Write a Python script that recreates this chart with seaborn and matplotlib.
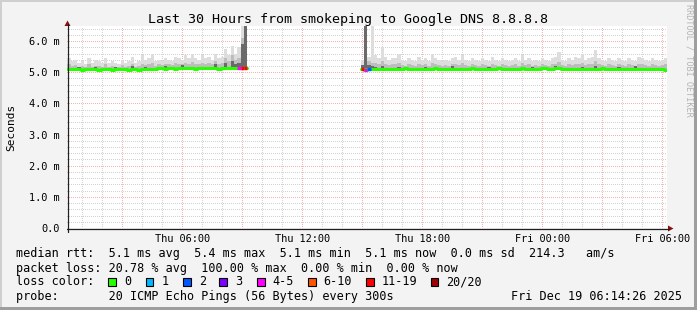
import numpy as np
import pandas as pd
import matplotlib
matplotlib.use("Agg")
import matplotlib.pyplot as plt
from matplotlib.lines import Line2D
from matplotlib.patches import Rectangle, Polygon
from matplotlib.ticker import FixedLocator
import seaborn as sns

# ---------------- data ----------------
TITLE = "Last 30 Hours from smokeping to Google DNS 8.8.8.8"
Y_LABEL = "Seconds"
X_START, X_END = 0.2407, 30.2407          # hours since Thu 00:00
STEP_H = 1 / 6                            # 10-minute bins
PRE_START = 0.25                          # Thu 00:15
POST_START = 14.9167                      # Thu 14:55

X_MAJOR = [3, 6, 9, 12, 15, 18, 21, 24, 27, 30]
X_LABELS = ["", "Thu 06:00", "", "Thu 12:00", "", "Thu 18:00", "", "Fri 00:00", "", "Fri 06:00"]
Y_TICKS = [0, 1, 2, 3, 4, 5, 6]
Y_LABELS = ["0.0", "1.0 m", "2.0 m", "3.0 m", "4.0 m", "5.0 m", "6.0 m"]

LOSS_LABELS = ["0", "1", "2", "3", "4-5", "6-10", "11-19", "20/20"]
LOSS_COLORS = ["#26ff00", "#00b8ff", "#0059ff", "#7e00ff", "#ff00ff", "#ff5500", "#ff0000", "#a00000"]

# median rtt (ms), before the outage
pre_median = [5.09, 5.09, 5.10, 5.09, 5.08, 5.09, 5.10, 5.09, 5.09, 5.08,
              5.09, 5.10, 5.09, 5.08, 5.09, 5.09, 5.10, 5.09, 5.08, 5.09,
              5.09, 5.08, 5.09, 5.09, 5.10, 5.09, 5.09, 5.12, 5.12, 5.11,
              5.12, 5.12, 5.11, 5.12, 5.12, 5.13, 5.12, 5.12, 5.11, 5.12,
              5.12, 5.13, 5.12, 5.12, 5.12, 5.11, 5.12, 5.12, 5.12, 5.13,
              5.13, 5.12, 5.14, 5.13]
pre_hi = [5.45, 5.35, 5.40, 5.30, 5.35, 5.25, 5.45, 5.30, 5.40, 5.35,
          5.30, 5.45, 5.30, 5.35, 5.30, 5.25, 5.40, 5.30, 5.35, 5.50,
          5.30, 5.35, 5.55, 5.40, 5.45, 5.60, 5.35, 5.40, 5.35, 5.45,
          5.40, 5.35, 5.50, 5.45, 5.40, 5.55, 5.45, 5.60, 5.45, 5.40,
          5.55, 5.45, 5.50, 5.40, 5.60, 5.45, 5.50, 5.75, 5.55, 5.85,
          5.60, 5.80, 6.60, 6.60]
pre_mid = [5.25, 5.20, 5.22, 5.18, 5.20, 5.16, 5.25, 5.18, 5.20, 5.20,
           5.18, 5.25, 5.18, 5.20, 5.18, 5.16, 5.22, 5.18, 5.20, 5.28,
           5.18, 5.20, 5.28, 5.22, 5.25, 5.30, 5.20, 5.25, 5.22, 5.28,
           5.25, 5.22, 5.30, 5.28, 5.25, 5.30, 5.28, 5.32, 5.26, 5.25,
           5.30, 5.28, 5.30, 5.25, 5.35, 5.28, 5.30, 5.45, 5.35, 5.55,
           5.40, 5.45, 6.10, 6.60]
pre_core = [5.11, 5.11, 5.12, 5.18, 5.10, 5.11, 5.12, 5.11, 5.16, 5.10,
            5.11, 5.12, 5.11, 5.10, 5.17, 5.11, 5.12, 5.11, 5.10, 5.20,
            5.11, 5.10, 5.11, 5.18, 5.12, 5.11, 5.11, 5.14, 5.14, 5.20,
            5.14, 5.14, 5.13, 5.14, 5.22, 5.15, 5.14, 5.14, 5.13, 5.14,
            5.18, 5.15, 5.14, 5.14, 5.25, 5.13, 5.14, 5.30, 5.14, 5.35,
            5.25, 5.30, 5.90, 6.60]
pre_loss = [0] * 51 + [4, 6, 6]

# after the outage
post_median = [5.10, 5.08, 5.09, 5.10, 5.10,
               5.11, 5.11, 5.10, 5.11, 5.11, 5.10, 5.11, 5.11, 5.12, 5.11,
               5.11, 5.10, 5.11, 5.11, 5.10, 5.11, 5.11, 5.12, 5.11, 5.11,
               5.10, 5.11, 5.11, 5.11, 5.10, 5.11, 5.11, 5.11, 5.12, 5.11,
               5.11, 5.10, 5.11, 5.11, 5.11, 5.11, 5.12, 5.11, 5.11, 5.11,
               5.11, 5.10, 5.11, 5.12, 5.11, 5.11, 5.10, 5.11, 5.11, 5.12,
               5.12, 5.11, 5.11, 5.12, 5.12, 5.11, 5.11, 5.10, 5.10, 5.09,
               5.09, 5.10, 5.09, 5.09, 5.10, 5.10, 5.11, 5.12, 5.11, 5.10,
               5.10, 5.09, 5.09, 5.10, 5.09, 5.09, 5.10, 5.10, 5.09, 5.09,
               5.10, 5.10, 5.09, 5.10, 5.11, 5.10, 5.08]
post_hi = [5.40, 6.60, 5.50, 6.60, 5.55,
           5.45, 5.80, 5.50, 5.40, 5.45, 5.45, 5.60, 5.40, 5.35, 5.45,
           5.40, 5.35, 5.50, 5.40, 5.45, 5.35, 5.60, 5.45, 5.40, 5.35,
           5.40, 5.35, 5.45, 5.50, 5.40, 5.55, 5.40, 5.35, 5.45, 5.40,
           5.35, 5.45, 5.40, 5.35, 5.50, 5.40, 5.35, 5.45, 5.40, 5.35,
           5.40, 5.45, 5.35, 5.55, 5.40, 5.45, 5.35, 5.40, 5.35, 5.45,
           5.40, 5.35, 5.45, 5.50, 5.65, 5.40, 5.35, 5.45, 5.40, 5.50,
           5.45, 5.60, 5.40, 5.45, 5.50, 5.70, 5.45, 5.40, 5.35, 5.45,
           5.40, 5.35, 5.45, 5.40, 5.35, 5.45, 5.40, 5.35, 5.50, 5.45,
           5.40, 5.35, 5.45, 5.40, 5.35, 5.40, 5.45]
post_mid = [5.20, 6.60, 5.35, 5.30, 5.30,
            5.25, 5.35, 5.28, 5.22, 5.25, 5.25, 5.30, 5.22, 5.20, 5.25,
            5.22, 5.20, 5.28, 5.22, 5.25, 5.20, 5.30, 5.25, 5.22, 5.20,
            5.22, 5.20, 5.25, 5.28, 5.22, 5.30, 5.22, 5.20, 5.25, 5.22,
            5.20, 5.25, 5.22, 5.20, 5.28, 5.22, 5.20, 5.25, 5.22, 5.20,
            5.22, 5.25, 5.20, 5.30, 5.22, 5.25, 5.20, 5.22, 5.20, 5.25,
            5.22, 5.20, 5.25, 5.28, 5.32, 5.22, 5.20, 5.25, 5.22, 5.28,
            5.25, 5.30, 5.22, 5.25, 5.28, 5.35, 5.25, 5.22, 5.20, 5.25,
            5.22, 5.20, 5.25, 5.22, 5.20, 5.25, 5.22, 5.20, 5.28, 5.25,
            5.22, 5.20, 5.25, 5.22, 5.20, 5.22, 5.25]
post_core = [5.22, 6.60, 5.22, 5.20, 5.18,
             5.13, 5.20, 5.12, 5.13, 5.13, 5.12, 5.18, 5.13, 5.14, 5.13,
             5.13, 5.12, 5.13, 5.13, 5.18, 5.13, 5.13, 5.14, 5.13, 5.13,
             5.12, 5.13, 5.20, 5.13, 5.12, 5.13, 5.13, 5.13, 5.14, 5.13,
             5.13, 5.12, 5.13, 5.17, 5.13, 5.13, 5.14, 5.13, 5.13, 5.13,
             5.13, 5.12, 5.13, 5.14, 5.13, 5.13, 5.18, 5.13, 5.13, 5.14,
             5.14, 5.13, 5.13, 5.20, 5.14, 5.13, 5.13, 5.12, 5.12, 5.11,
             5.11, 5.18, 5.11, 5.11, 5.12, 5.20, 5.13, 5.14, 5.13, 5.12,
             5.12, 5.11, 5.17, 5.12, 5.11, 5.11, 5.12, 5.20, 5.11, 5.11,
             5.12, 5.12, 5.11, 5.12, 5.13, 5.12, 5.10]
post_loss = [6, 4, 2] + [0] * 89

LEGEND_LINES = [
    "median rtt:  5.1 ms avg  5.4 ms max  5.1 ms min  5.1 ms now  0.0 ms sd  214.3   am/s",
    "packet loss: 20.78 % avg  100.00 % max  0.00 % min  0.00 % now",
    "loss color:",
    "probe:       20 ICMP Echo Pings (56 Bytes) every 300s",
]
DATE_TEXT = "Fri Dec 19 06:14:26 2025"
WATERMARK = "RRDTOOL / TOBI OETIKER"

# ---------------- style ----------------
sns.set_theme(style="white")
MONO = ['DejaVu Sans Mono', 'DejaVu Sans']
plt.rcParams['font.family'] = MONO

W, H, DPI = 697, 310, 100
def fx(x): return x / W
def fy(y): return 1 - y / H

fig = plt.figure(figsize=(W / DPI, H / DPI), dpi=DPI, facecolor='#f3f3f3')
# 3D frame
fig.add_artist(Rectangle((0, 0), fx(2), 1, transform=fig.transFigure, color='#cfcfcf', lw=0))
fig.add_artist(Rectangle((0, fy(2)), 1, 2 / H, transform=fig.transFigure, color='#cfcfcf', lw=0))
fig.add_artist(Rectangle((fx(694), 0), 3 / W, 1, transform=fig.transFigure, color='#9e9e9e', lw=0))
fig.add_artist(Rectangle((0, 0), 1, 3 / H, transform=fig.transFigure, color='#9e9e9e', lw=0))

ax = fig.add_axes([fx(67), fy(228), 600 / W, 202.5 / H])
ax.set_facecolor('white')
ax.set_xlim(X_START, X_END)
ax.set_ylim(0, 6.5)
for s in ax.spines.values():
    s.set_visible(False)

ax.xaxis.set_major_locator(FixedLocator(X_MAJOR))
ax.xaxis.set_minor_locator(FixedLocator(np.arange(1, 31, 1)))
ax.set_xticklabels(X_LABELS)
ax.yaxis.set_major_locator(FixedLocator(Y_TICKS))
ax.yaxis.set_minor_locator(FixedLocator(np.arange(0.2, 6.5, 0.2)))
ax.set_yticklabels(Y_LABELS)
ax.set_axisbelow(True)
ax.grid(which='minor', color='#d2d2d2', lw=0.72, ls=(0, (1, 2)), antialiased=False)
ax.grid(which='major', color='#f3b3b3', lw=0.72, ls=(0, (1, 2)), antialiased=False)
ax.tick_params(axis='both', which='major', direction='out', width=0.72,
               color='#404040', labelsize=7.4, labelcolor='#000000')
ax.tick_params(axis='y', which='major', length=3.6, pad=1.6)
ax.tick_params(axis='x', which='major', length=2.2, pad=2.2)
ax.tick_params(axis='x', which='minor', length=1.4, width=0.72, color='#404040')
ax.tick_params(axis='y', which='minor', length=0)
for lab in ax.get_xticklabels() + ax.get_yticklabels():
    lab.set_family(MONO)

SMOKE = ['#dddddd', '#bdbdbd', '#6a6a6a']

def draw_segment(start, med, hi, mid, core, loss):
    n = len(med)
    t = start + np.arange(n + 1) * STEP_H
    med_e = np.append(med, med[-1])
    for layer, col in zip([hi, mid, core], SMOKE):
        ax.fill_between(t, med_e, np.append(layer, layer[-1]), step='post',
                        color=col, lw=0, zorder=2)
    df = pd.DataFrame({'t': t, 'rtt': med_e})
    sns.lineplot(data=df, x='t', y='rtt', ax=ax, color=LOSS_COLORS[0], lw=2.2,
                 drawstyle='steps-post', estimator=None, sort=False, zorder=4)
    for i, code in enumerate(loss):
        if code:
            ax.hlines(med[i], t[i], t[i + 1], color=LOSS_COLORS[code], lw=2.4, zorder=5)

draw_segment(PRE_START, pre_median, pre_hi, pre_mid, pre_core, pre_loss)
draw_segment(POST_START, post_median, post_hi, post_mid, post_core, post_loss)
ax.set_xlabel('')
ax.set_ylabel('')

# axis lines and arrows
AX_COL = '#202020'
fig.add_artist(Line2D([fx(67), fx(669)], [fy(228.5), fy(228.5)], transform=fig.transFigure, color=AX_COL, lw=0.9))
fig.add_artist(Line2D([fx(67.5), fx(67.5)], [fy(231.5), fy(24)], transform=fig.transFigure, color=AX_COL, lw=0.9))
ARROW = '#8b1010'
fig.add_artist(Polygon([[fx(668), fy(225.5)], [fx(668), fy(231.5)], [fx(673.5), fy(228.5)]],
                       closed=True, transform=fig.transFigure, color=ARROW, lw=0))
fig.add_artist(Polygon([[fx(64.5), fy(26)], [fx(70.5), fy(26)], [fx(67.5), fy(20.5)]],
                       closed=True, transform=fig.transFigure, color=ARROW, lw=0))

# texts
fig.text(fx(348.5), fy(19), TITLE, ha='center', va='center', fontsize=9.6, family=MONO, color='#000')
fig.text(fx(11), fy(127), Y_LABEL, rotation=90, ha='center', va='center', fontsize=8.0, family=MONO, color='#000')
fig.text(fx(688.5), fy(60), WATERMARK, rotation=270, ha='center', va='center', fontsize=6.1,
         family=MONO, color='#b4b4b4')

LEG_FS = 8.5
line_y = [254, 268.3, 281.7, 296.7]
for txt, yy in zip(LEGEND_LINES, line_y):
    fig.text(fx(16), fy(yy), txt, ha='left', va='center', fontsize=LEG_FS, family=MONO, color='#000')
fig.text(fx(682), fy(296.7), DATE_TEXT, ha='right', va='center', fontsize=LEG_FS, family=MONO, color='#000')

box_x = [108.3, 145.7, 183.3, 219.3, 257.3, 308.0, 366.0, 430.7]
for bx, lab, col in zip(box_x, LOSS_LABELS, LOSS_COLORS):
    fig.add_artist(Rectangle((fx(bx), fy(285.5)), 7.5 / W, 7.5 / H, transform=fig.transFigure,
                             facecolor=col, edgecolor='#000000', lw=0.8))
    fig.text(fx(bx + 15.5), fy(281.7), lab, ha='left', va='center', fontsize=LEG_FS, family=MONO, color='#000')

fig.savefig('out.png', dpi=DPI, facecolor=fig.get_facecolor())
